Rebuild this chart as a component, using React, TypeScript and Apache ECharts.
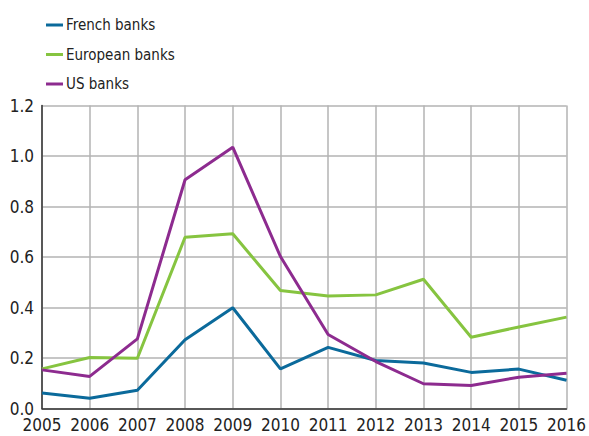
import React, { useEffect, useRef } from "react";
import * as echarts from "echarts";

const years = ["2005","2006","2007","2008","2009","2010","2011","2012","2013","2014","2015","2016"];
const frenchBanks = [0.061, 0.041, 0.072, 0.272, 0.399, 0.157, 0.242, 0.19, 0.18, 0.143, 0.156, 0.112];
const europeanBanks = [0.157, 0.202, 0.199, 0.678, 0.692, 0.467, 0.446, 0.45, 0.512, 0.282, 0.323, 0.362];
const usBanks = [0.153, 0.127, 0.276, 0.906, 1.035, 0.602, 0.293, 0.186, 0.098, 0.091, 0.124, 0.14];

const FONT = "'DejaVu Sans Condensed', Roboto, sans-serif";

export default function App() {
  const ref = useRef<HTMLDivElement>(null);
  useEffect(() => {
    const chart = echarts.init(ref.current!, null, { renderer: "svg" });
    const mk = (name: string, data: number[], color: string) => ({
      name,
      type: "line",
      data,
      symbol: "none",
      lineStyle: { color, width: 3 },
      itemStyle: { color },
    });
    chart.setOption({
      animation: false,
      backgroundColor: "#ffffff",
      textStyle: { fontFamily: FONT },
      legend: {
        orient: "vertical",
        left: 41,
        top: 11,
        itemWidth: 17,
        itemHeight: 3,
        itemGap: 11.5,
        icon: "rect",
        textStyle: { fontFamily: FONT, fontSize: 15, color: "#222", lineHeight: 18, padding: [0, 0, 0, -2] },
        data: ["French banks", "European banks", "US banks"],
      },
      grid: { left: 42, right: 17, top: 105.5, bottom: 27.5, containLabel: false },
      xAxis: {
        type: "category",
        data: years,
        boundaryGap: false,
        axisLine: { show: true, lineStyle: { color: "#333", width: 1.5 } },
        axisTick: { show: false },
        axisLabel: { fontFamily: FONT, fontSize: 17, color: "#222", margin: 8, interval: 0 },
        splitLine: { show: true, lineStyle: { color: "#b3b3b3", width: 1.5 } },
      },
      yAxis: {
        type: "value",
        min: 0,
        max: 1.2,
        interval: 0.2,
        axisLine: { show: true, lineStyle: { color: "#333", width: 1.5 } },
        axisTick: { show: false },
        axisLabel: {
          fontFamily: FONT,
          fontSize: 17,
          color: "#222",
          margin: 8,
          formatter: (v: number) => v.toFixed(1),
        },
        splitLine: { show: true, lineStyle: { color: "#b3b3b3", width: 1.5 } },
      },
      series: [
        mk("French banks", frenchBanks, "#0b6a9b"),
        mk("European banks", europeanBanks, "#86c440"),
        mk("US banks", usBanks, "#8d2b8f"),
      ],
    });
    return () => chart.dispose();
  }, []);
  return <div ref={ref} style={{ width: 589, height: 436, position: "absolute", left: 0, top: 0 }} />;
}
